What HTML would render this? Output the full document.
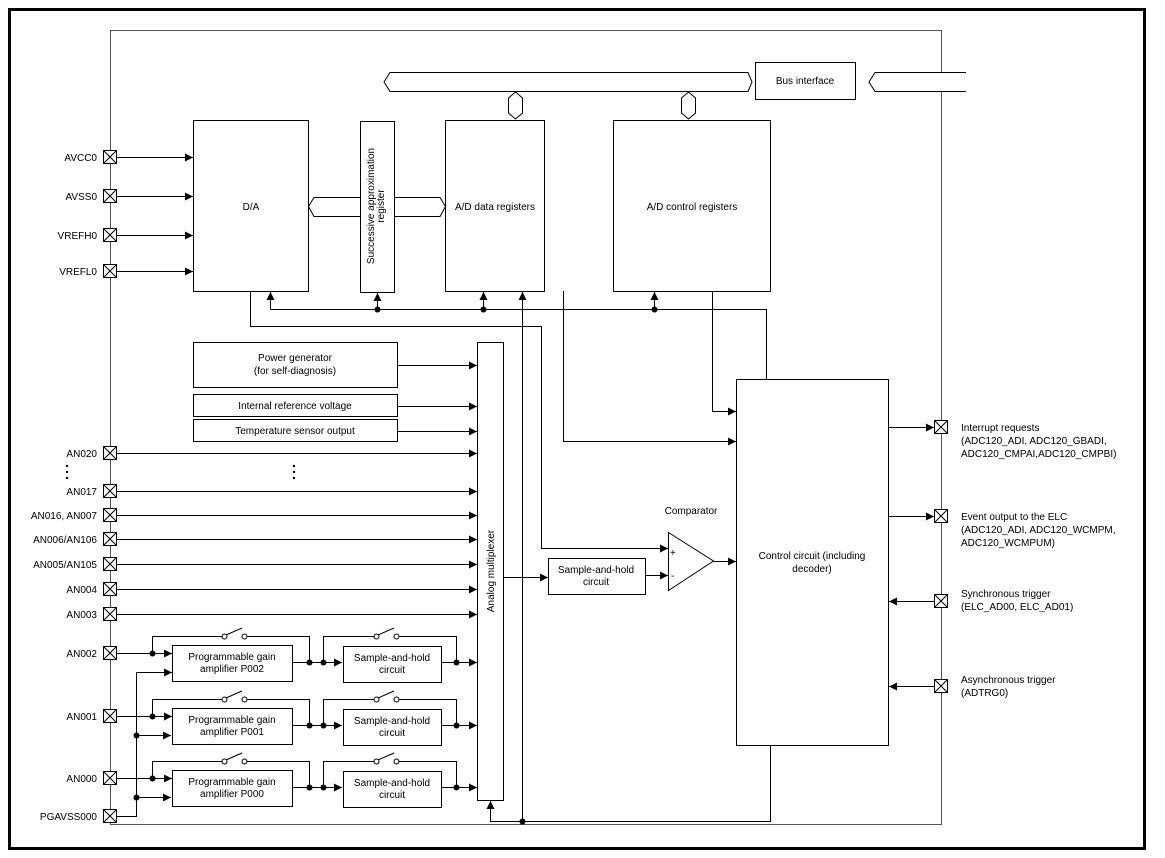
<!DOCTYPE html>
<html><head><meta charset="utf-8"><style>
body{margin:0;background:#fff}
svg{display:block;font-family:"Liberation Sans",Arial,sans-serif;font-size:10px}
</style></head><body>
<svg width="1165" height="858" viewBox="0 0 1165 858" xmlns="http://www.w3.org/2000/svg">
<defs>
<marker id="a" viewBox="0 0 10 10" refX="10" refY="5" markerWidth="8" markerHeight="8" markerUnits="userSpaceOnUse" orient="auto"><path d="M0,0L10,5L0,10z" fill="#000"/></marker>
<symbol id="x" viewBox="0 0 14 14"><rect x="0.5" y="0.5" width="13" height="13" fill="#fff" stroke="#000"/><path d="M0.5,0.5L13.5,13.5M13.5,0.5L0.5,13.5" stroke="#000"/></symbol>
</defs>
<rect x="9.5" y="9.5" width="1135" height="839" fill="none" stroke="#000" stroke-width="3"/>
<g fill="none" stroke="#000" stroke-width="1">
<rect x="110.5" y="30.5" width="831" height="794" stroke="#555"/>
<!-- top bus -->
<path d="M390,72.5H748L752,82L748,91.5H390L384,82Z" fill="#fff"/>
<rect x="755.5" y="62.5" width="100" height="37" fill="#fff"/>
<path d="M966,72.5H875L869,82L875,91.5H966" fill="#fff"/>
<path d="M508.5,98L515.5,92L522.5,98V113L515.5,119L508.5,113Z" fill="#fff"/>
<path d="M681.5,98L688.5,92L695.5,98V113L688.5,119L681.5,113Z" fill="#fff"/>
<!-- blocks -->
<rect x="193.5" y="120.5" width="115" height="171" fill="#fff"/>
<path d="M360,197.5H314L308.5,206.5L314,216.5H360"/>
<path d="M394,197.5H440L445.5,206.5L440,216.5H394"/>
<rect x="360.5" y="121.5" width="34" height="171" fill="#fff"/>
<rect x="445.5" y="120.5" width="99" height="171" fill="#fff"/>
<rect x="613.5" y="120.5" width="157" height="171" fill="#fff"/>
<!-- D/A inputs -->
<path d="M117,157.5H193" marker-end="url(#a)"/>
<path d="M117,196.5H193" marker-end="url(#a)"/>
<path d="M117,235.5H193" marker-end="url(#a)"/>
<path d="M117,271.5H193" marker-end="url(#a)"/>
<!-- bus under registers -->
<path d="M270.5,309.5H766.5V379"/>
<path d="M270.5,309.5V292" marker-end="url(#a)"/>
<path d="M377.5,309.5V293" marker-end="url(#a)"/>
<path d="M483.5,309.5V292" marker-end="url(#a)"/>
<path d="M654.5,309.5V292" marker-end="url(#a)"/>
<path d="M250.5,291V326.5H541.5V548.5H668" marker-end="url(#a)"/>
<path d="M563.5,291V441.5H736" marker-end="url(#a)"/>
<path d="M712.5,291V411.5H736" marker-end="url(#a)"/>
<path d="M522.5,821.5V292" marker-end="url(#a)"/>
<!-- control -->
<rect x="736.5" y="379.5" width="152" height="366" fill="#fff"/>
<!-- mux -->
<rect x="477.5" y="342.5" width="26" height="458" fill="#fff"/>
<rect x="193.5" y="342.5" width="204" height="45"/>
<rect x="193.5" y="394.5" width="204" height="22"/>
<rect x="193.5" y="419.5" width="204" height="22"/>
<path d="M397,365.5H477" marker-end="url(#a)"/>
<path d="M397,406.5H477" marker-end="url(#a)"/>
<path d="M397,431.5H477" marker-end="url(#a)"/>
<path d="M117,453.5H477" marker-end="url(#a)"/>
<path d="M117,491.5H477" marker-end="url(#a)"/>
<path d="M117,515.5H477" marker-end="url(#a)"/>
<path d="M117,539.5H477" marker-end="url(#a)"/>
<path d="M117,564.5H477" marker-end="url(#a)"/>
<path d="M117,589.5H477" marker-end="url(#a)"/>
<path d="M117,614.5H477" marker-end="url(#a)"/>
<path d="M503,577.5H548" marker-end="url(#a)"/>
<rect x="548.5" y="558.5" width="97" height="36"/>
<path d="M645,575.5H668" marker-end="url(#a)"/>
<path d="M668.5,532.5L713.5,561L668.5,590.5Z"/>
<path d="M713,561.5H736" marker-end="url(#a)"/>
<!-- bottom line -->
<path d="M770.5,745V821.5H490.5V801" marker-end="url(#a)"/>
<!-- right pins -->
<path d="M888,427.5H934" marker-end="url(#a)"/>
<path d="M888,516.5H934" marker-end="url(#a)"/>
<path d="M934,601.5H889" marker-end="url(#a)"/>
<path d="M934,686.5H889" marker-end="url(#a)"/>
<!-- PGA rows -->
<path d="M117,816.5H136.5V672.5"/>
<path d="M136.5,672.5H172" marker-end="url(#a)"/>
<path d="M136.5,735.5H171" marker-end="url(#a)"/>
<path d="M136.5,797.5H171" marker-end="url(#a)"/>
<g id="row">
<path d="M117,653.5H172" marker-end="url(#a)"/>
<path d="M152.5,653.5V636.5H222"/>
<path d="M247,636.5H309.5V662.5"/>
<path d="M292,662.5H323"/>
<path d="M323,662.5H342" marker-end="url(#a)"/>
<path d="M323.5,662.5V636.5H374"/>
<path d="M399,636.5H456.5V662.5"/>
<path d="M441,662.5H477" marker-end="url(#a)"/>
<path d="M226,635L242,628"/>
<circle cx="224.5" cy="636.5" r="2.5" fill="#fff"/><circle cx="244.5" cy="636.5" r="2.5" fill="#fff"/>
<path d="M378,635L394,628"/>
<circle cx="376.5" cy="636.5" r="2.5" fill="#fff"/><circle cx="396.5" cy="636.5" r="2.5" fill="#fff"/>
<rect x="172.5" y="645.5" width="120" height="36"/>
<rect x="343.5" y="646.5" width="98" height="36"/>
</g>
<use href="#row" y="63"/>
<use href="#row" y="125"/>
</g>
<g fill="#000">
<circle cx="377.5" cy="309.5" r="3"/><circle cx="483.5" cy="309.5" r="3"/><circle cx="654.5" cy="309.5" r="3"/>
<circle cx="522.5" cy="821.5" r="3"/>
<circle cx="136.5" cy="735.5" r="3"/><circle cx="136.5" cy="797.5" r="3"/>
<g id="dots"><circle cx="152.5" cy="653.5" r="3"/><circle cx="309.5" cy="662.5" r="3"/><circle cx="323.5" cy="662.5" r="3"/><circle cx="456.5" cy="662.5" r="3"/></g>
<use href="#dots" y="63"/><use href="#dots" y="125"/>
<circle cx="294" cy="466" r="1.2"/><circle cx="294" cy="472" r="1.2"/><circle cx="294" cy="478" r="1.2"/>
<circle cx="67" cy="466" r="1.2"/><circle cx="67" cy="472" r="1.2"/><circle cx="67" cy="478" r="1.2"/>
</g>
<!-- pins -->
<g>
<use href="#x" x="103" y="150" width="14" height="14"/>
<use href="#x" x="103" y="189" width="14" height="14"/>
<use href="#x" x="103" y="228" width="14" height="14"/>
<use href="#x" x="103" y="264" width="14" height="14"/>
<use href="#x" x="103" y="446" width="14" height="14"/>
<use href="#x" x="103" y="484" width="14" height="14"/>
<use href="#x" x="103" y="508" width="14" height="14"/>
<use href="#x" x="103" y="532" width="14" height="14"/>
<use href="#x" x="103" y="557" width="14" height="14"/>
<use href="#x" x="103" y="582" width="14" height="14"/>
<use href="#x" x="103" y="607" width="14" height="14"/>
<use href="#x" x="103" y="646" width="14" height="14"/>
<use href="#x" x="103" y="709" width="14" height="14"/>
<use href="#x" x="103" y="771" width="14" height="14"/>
<use href="#x" x="103" y="809" width="14" height="14"/>
<use href="#x" x="934" y="420" width="14" height="14"/>
<use href="#x" x="934" y="509" width="14" height="14"/>
<use href="#x" x="934" y="594" width="14" height="14"/>
<use href="#x" x="934" y="679" width="14" height="14"/>
</g>
<g text-anchor="end">
<text x="97" y="161">AVCC0</text><text x="97" y="200">AVSS0</text><text x="97" y="239">VREFH0</text><text x="97" y="275">VREFL0</text>
<text x="97" y="457">AN020</text><text x="97" y="495">AN017</text><text x="97" y="519">AN016, AN007</text><text x="97" y="543">AN006/AN106</text><text x="97" y="568">AN005/AN105</text><text x="97" y="593">AN004</text><text x="97" y="618">AN003</text><text x="97" y="657">AN002</text><text x="97" y="720">AN001</text><text x="97" y="782">AN000</text><text x="97" y="820">PGAVSS000</text>
</g>
<g text-anchor="middle">
<text x="805" y="84">Bus interface</text>
<text x="251" y="210">D/A</text>
<text x="495" y="210">A/D data registers</text>
<text x="692" y="210">A/D control registers</text>
<text transform="translate(374,206) rotate(-90)">Successive approximation</text>
<text transform="translate(384,206) rotate(-90)">register</text>
<text transform="translate(494,571) rotate(-90)">Analog multiplexer</text>
<text x="295" y="361">Power generator</text><text x="295" y="374">(for self-diagnosis)</text>
<text x="295" y="409">Internal reference voltage</text>
<text x="295" y="434">Temperature sensor output</text>
<text x="596" y="573">Sample-and-hold</text><text x="596" y="585">circuit</text>
<text x="691" y="514">Comparator</text>
<text x="812" y="559">Control circuit (including</text><text x="812" y="572">decoder)</text>
<text x="232" y="660">Programmable gain</text><text x="232" y="672">amplifier P002</text>
<text x="232" y="723">Programmable gain</text><text x="232" y="735">amplifier P001</text>
<text x="232" y="785">Programmable gain</text><text x="232" y="797">amplifier P000</text>
<text x="392" y="661">Sample-and-hold</text><text x="392" y="673">circuit</text>
<text x="392" y="724">Sample-and-hold</text><text x="392" y="736">circuit</text>
<text x="392" y="786">Sample-and-hold</text><text x="392" y="798">circuit</text>
</g>
<text x="670" y="556">+</text><text x="671" y="579">-</text>
<g>
<text x="961" y="431">Interrupt requests</text><text x="961" y="444">(ADC120_ADI, ADC120_GBADI,</text><text x="961" y="457">ADC120_CMPAI,ADC120_CMPBI)</text>
<text x="961" y="520">Event output to the ELC</text><text x="961" y="533">(ADC120_ADI, ADC120_WCMPM,</text><text x="961" y="546">ADC120_WCMPUM)</text>
<text x="961" y="597">Synchronous trigger</text><text x="961" y="610">(ELC_AD00, ELC_AD01)</text>
<text x="961" y="683">Asynchronous trigger</text><text x="961" y="696">(ADTRG0)</text>
</g>
</svg>
</body></html>
